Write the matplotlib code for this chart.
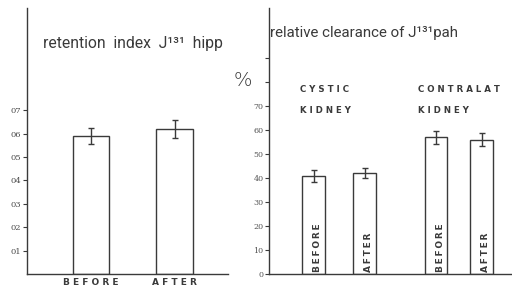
import matplotlib
matplotlib.use("Agg")
import matplotlib.pyplot as plt

# left panel: retention index of I-131 hippuran
ret_labels = ["BEFORE", "AFTER"]
ret_values = [0.59, 0.62]
ret_errors = [0.035, 0.04]
ret_ticks = [0.1, 0.2, 0.3, 0.4, 0.5, 0.6, 0.7]
ret_ticklabels = ["01", "02", "03", "04", "05", "06", "07"]

# right panel: relative clearance of I-131 pah (%)
clr_groups = [["CYSTIC", "KIDNEY"], ["CONTRALAT", "KIDNEY"]]
clr_labels = ["BEFORE", "AFTER", "BEFORE", "AFTER"]
clr_values = [41, 42, 57, 56]
clr_errors = [2.5, 2.0, 2.7, 2.8]
clr_ticks = [0, 10, 20, 30, 40, 50, 60, 70, 80, 90]
clr_ticklabels = ["0", "10", "20", "30", "40", "50", "60", "70", "", ""]

INK = "#3a3a3a"
NARROW = ["Roboto", "DejaVu Sans"]


def spaced(s, sep=" "):
    return sep.join(s)


fig = plt.figure(figsize=(5.12, 2.92), dpi=100)
W, H = 512, 292

# ---- left panel
ax1 = fig.add_axes([27 / W, 18 / H, 201 / W, 266 / H])
x1 = [0, 1]
ax1.bar(x1, ret_values, width=0.44, color="white", edgecolor=INK, linewidth=1.0)
ax1.errorbar(x1, ret_values, yerr=ret_errors, fmt="none", ecolor=INK,
             elinewidth=1.0, capsize=2.5, capthick=1.0)
ax1.set_xlim(-0.766, 1.64)
ax1.set_ylim(0, 1.137)
ax1.set_yticks(ret_ticks)
ax1.set_yticklabels(ret_ticklabels, family="DejaVu Serif", fontsize=6, color="#4a4a4a")
ax1.set_xticks(x1)
ax1.set_xticklabels([spaced(s) for s in ret_labels], fontsize=6.5,
                    fontweight="bold", color=INK)
ax1.tick_params(axis="x", length=0, pad=3)
ax1.tick_params(axis="y", length=3, width=0.8, color=INK, pad=1)
ax1.text(0.08, 0.865, "retention  index  J\u00b9\u00b3\u00b9  hipp", transform=ax1.transAxes,
         ha="left", va="center", fontsize=11.3, color=INK, family=NARROW)

# ---- right panel
ax2 = fig.add_axes([269 / W, 18 / H, 243 / W, 266 / H])
x2 = [0, 1, 2.4, 3.3]
ax2.bar(x2, clr_values, width=0.45, color="white", edgecolor=INK, linewidth=1.0)
ax2.errorbar(x2, clr_values, yerr=clr_errors, fmt="none", ecolor=INK,
             elinewidth=1.0, capsize=2.2, capthick=1.0)
ax2.set_xlim(-0.873, 3.89)
ax2.set_ylim(0, 110.8)
ax2.set_yticks(clr_ticks)
ax2.set_yticklabels(clr_ticklabels, family="DejaVu Serif", fontsize=5.8, color="#555555")
ax2.set_xticks([])
ax2.tick_params(axis="y", length=3, width=0.8, color=INK, pad=1)
for xi, lab in zip(x2, clr_labels):
    ax2.text(xi + 0.08, 0.8, spaced(lab, "\u2009"), rotation=90, ha="center",
             va="bottom", fontsize=6.5, fontweight="bold", color=INK)
for gx, words in zip([-0.26, 2.05], clr_groups):
    ax2.text(gx, 76.7, spaced(words[0]), ha="left", va="center", fontsize=6.2,
             fontweight="bold", color=INK)
    ax2.text(gx, 67.9, spaced(words[1]), ha="left", va="center", fontsize=6.2,
             fontweight="bold", color=INK)
ax2.text(0.005, 0.906, "relative clearance of J\u00b9\u00b3\u00b9pah", transform=ax2.transAxes,
         ha="left", va="center", fontsize=10.8, color=INK, family=NARROW)

for ax in (ax1, ax2):
    for side in ("top", "right"):
        ax.spines[side].set_visible(False)
    for side in ("left", "bottom"):
        ax.spines[side].set_color(INK)
        ax.spines[side].set_linewidth(1.0)

fig.text(243 / W, (H - 80) / H, "%", ha="center", va="center", fontsize=14,
         color=INK, fontweight="light")

fig.savefig("out.png", dpi=100, facecolor="white")
